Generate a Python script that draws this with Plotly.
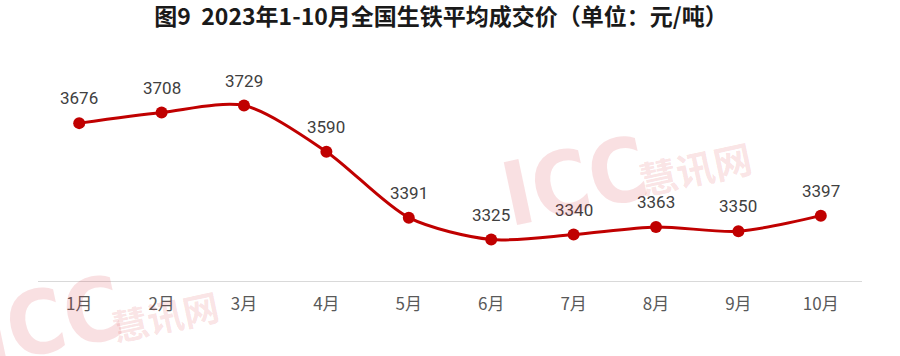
import plotly.graph_objects as go

months = ["1月", "2月", "3月", "4月", "5月", "6月", "7月", "8月", "9月", "10月"]
prices = [3676, 3708, 3729, 3590, 3391, 3325, 3340, 3363, 3350, 3397]
title_text = "图9  2023年1-10月全国生铁平均成交价（单位：元/吨）"

fig = go.Figure()
fig.add_trace(go.Scatter(
    x=months, y=prices, mode="lines+markers",
    line=dict(color="#C00000", width=3, shape="spline", smoothing=0.8),
    marker=dict(color="#C00000", size=12),
    cliponaxis=False, hoverinfo="skip",
))
for m, v in zip(months, prices):
    fig.add_annotation(x=m, y=v, text=str(v), showarrow=False, yshift=25,
                       font=dict(family="Roboto, Noto Sans CJK SC", size=17, color="#404040"))

# faint watermarks
wm_color = "rgba(215,50,60,0.15)"
icc_font = "DejaVu Sans Condensed, Liberation Sans Narrow, sans-serif"
wm = [(0.652, 0.50, "ICC", 88, icc_font),
      (0.797, 0.57, "慧讯网", 38, "Noto Sans CJK SC"),
      (0.015, -0.20, "ICC", 88, icc_font),
      (0.154, -0.17, "慧讯网", 36, "Noto Sans CJK SC")]
for x, y, t, s, fam in wm:
    fig.add_annotation(xref="paper", yref="paper", x=x, y=y, text="<b>" + t + "</b>",
                       showarrow=False, textangle=-12, xanchor="center", yanchor="middle",
                       font=dict(family=fam, size=s, color=wm_color))

fig.update_layout(
    width=900, height=356,
    margin=dict(l=38, r=38, t=82, b=75),
    paper_bgcolor="white", plot_bgcolor="white",
    title=dict(text=title_text, x=0.49, xanchor="center", y=0.952, yanchor="middle",
               font=dict(family="Noto Sans CJK SC", size=23, weight=600, color="#1a1a1a")),
    showlegend=False,
    xaxis=dict(range=[-0.5, 9.5], showgrid=False, showline=True, linecolor="#D9D9D9", linewidth=1,
               ticks="", tickfont=dict(family="Noto Sans CJK SC", size=17, color="#595959"),
               ticklabelstandoff=8),
    yaxis=dict(range=[3200, 3800], visible=False, showgrid=False, zeroline=False),
)
fig.write_html("out.html", config={"displayModeBar": False},
               post_script="document.body.style.margin='0';")
